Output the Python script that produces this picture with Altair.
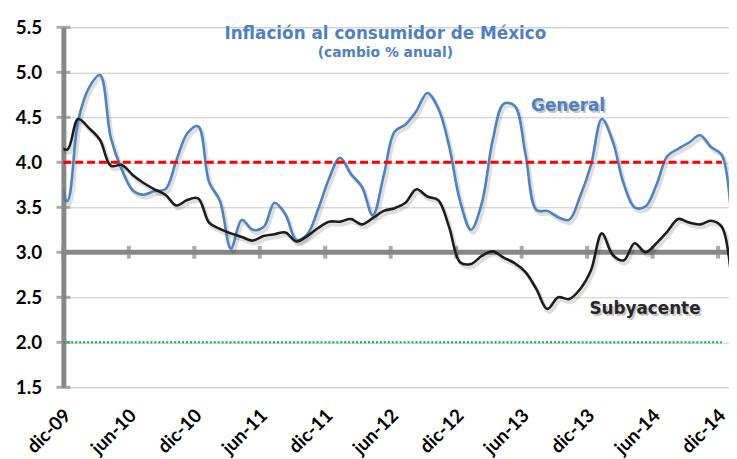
import json
import altair as alt
import pandas as pd

# ---------------- data ----------------
abbr = ["ene", "feb", "mar", "abr", "may", "jun", "jul", "ago", "sep", "oct", "nov", "dic"]
meses = ["nov-09", "dic-09"] + [f"{a}-{y}" for y in ["10", "11", "12", "13", "14"] for a in abbr] + ["ene-15"]

general = [3.86, 3.57,
           4.46, 4.83, 4.97, 4.27, 3.92, 3.69, 3.64, 3.68, 3.70, 4.02, 4.32, 4.40,
           3.78, 3.57, 3.04, 3.36, 3.25, 3.28, 3.55, 3.42, 3.14, 3.20, 3.48, 3.82,
           4.05, 3.87, 3.73, 3.41, 3.85, 4.34, 4.42, 4.57, 4.77, 4.60, 4.18, 3.57,
           3.25, 3.55, 4.25, 4.65, 4.63, 4.09, 3.47, 3.46, 3.39, 3.36, 3.62, 3.97,
           4.48, 4.23, 3.76, 3.50, 3.51, 3.75, 4.07, 4.15, 4.22, 4.30, 4.17, 4.08,
           3.07]

subyacente = [4.22, 4.14,
              4.48, 4.38, 4.25, 3.96, 3.97, 3.86, 3.77, 3.70, 3.64, 3.52, 3.58, 3.60,
              3.33, 3.26, 3.21, 3.17, 3.13, 3.18, 3.20, 3.22, 3.12, 3.18, 3.27, 3.34,
              3.34, 3.37, 3.31, 3.38, 3.46, 3.49, 3.55, 3.70, 3.62, 3.58, 3.28, 2.89,
              2.87, 2.96, 3.01, 2.94, 2.88, 2.78, 2.59, 2.37, 2.50, 2.48, 2.59, 2.80,
              3.21, 2.97, 2.91, 3.10, 3.00, 3.10, 3.23, 3.37, 3.33, 3.31, 3.35, 3.28,
              2.49]

x_labels = ["dic-09", "jun-10", "dic-10", "jun-11", "dic-11", "jun-12",
            "dic-12", "jun-13", "dic-13", "jun-14", "dic-14"]
y_ticks = [1.5, 2.0, 2.5, 3.0, 3.5, 4.0, 4.5, 5.0, 5.5]

meta_superior = 4.0
meta_inferior = 2.0
cruce_eje = 3.0

etiquetas = ["General", "Subyacente"]

# ---------------- tables ----------------
OFFSET = 0.35  # data points sit a little after the start of each month
idx0 = meses.index("dic-09")
df = pd.DataFrame({
    "mes": meses,
    "x": [i - idx0 + OFFSET for i in range(len(meses))],
    "General": general,
    "Subyacente": subyacente,
})
tick_pos = [meses.index(l) - idx0 for l in x_labels]
x_last = meses.index("dic-14") - idx0 + OFFSET

BLUE = "#4f81bd"
BLACK = "#1c1c1c"
AXIS_GRAY = "#878787"

xscale = alt.Scale(domain=[0, 61], nice=False, zero=False)
yscale = alt.Scale(domain=[1.5, 5.5], nice=False, zero=False)

label_expr = json.dumps(x_labels) + "[round(datum.value / 6)]"

x_main = alt.X("x:Q", scale=xscale, title=None, axis=alt.Axis(
    values=tick_pos, labelExpr=label_expr, labelAngle=-45, labelAlign="right",
    labelBaseline="middle", labelPadding=25, labelOffset=4, labelFont="Lato",
    labelFontSize=19, labelFontWeight="bold", labelColor="#000000",
    labelFlush=False, labelOverlap=False, domain=False, ticks=False, grid=False, title=None))
y_main = alt.Y("General:Q", scale=yscale, title=None, axis=alt.Axis(
    values=y_ticks, format=".1f", labelFont="Lato", labelFontSize=19,
    labelFontWeight="bold", labelColor="#000000", labelPadding=22, ticks=False,
    domainColor=AXIS_GRAY, domainWidth=5, gridColor="#c8c8c8", gridWidth=1,
    labelFlush=False, labelOverlap=False, title=None))

X = lambda f: alt.X(f, scale=xscale, title=None)
Y = lambda f: alt.Y(f, scale=yscale, title=None)

# main layer carrying the axes (invisible)
axes_layer = alt.Chart(df).mark_line(opacity=0).encode(x=x_main, y=y_main)

# horizontal axis line at 3.0
cross = alt.Chart(pd.DataFrame({"y": [cruce_eje]})).mark_rule(
    color=AXIS_GRAY, strokeWidth=5).encode(y=Y("y:Q"))

xticks = alt.Chart(pd.DataFrame({"x": tick_pos, "y": [cruce_eje] * len(tick_pos)})).mark_tick(
    orient="vertical", size=13, thickness=4, color=AXIS_GRAY).encode(x=X("x:Q"), y=Y("y:Q"))

yticks = alt.Chart(pd.DataFrame({"y": y_ticks})).mark_tick(
    orient="horizontal", size=14, thickness=3, color=AXIS_GRAY).encode(
    y=Y("y:Q"), x=alt.value(0))

green = alt.Chart(pd.DataFrame({"x": [0], "x2": [x_last], "y": [meta_inferior]})).mark_rule(
    color="#00b050", strokeWidth=2, strokeDash=[2, 2]).encode(x=X("x:Q"), x2="x2:Q", y=Y("y:Q"))

red = alt.Chart(pd.DataFrame({"x": [0], "x2": [x_last], "y": [meta_superior]})).mark_rule(
    color="#ff0000", strokeWidth=3, strokeDash=[8, 4]).encode(x=X("x:Q"), x2="x2:Q", y=Y("y:Q"))

base = alt.Chart(df)

def series(field, color):
    shadow = base.mark_line(color="#000000", opacity=0.13, strokeWidth=4, xOffset=2, yOffset=3,
                            interpolate="catmull-rom", clip=True).encode(x=X("x:Q"), y=Y(f"{field}:Q"))
    line = base.mark_line(color=color, strokeWidth=2.6, interpolate="catmull-rom", clip=True).encode(
        x=X("x:Q"), y=Y(f"{field}:Q"))
    return shadow, line

g_sh, g_line = series("General", BLUE)
s_sh, s_line = series("Subyacente", BLACK)

labels_df = pd.DataFrame({"x": [46.25, 53.3], "y": [4.566, 2.313], "t": etiquetas,
                          "c": [BLUE, "#262626"]})
lab_shadow = alt.Chart(labels_df).mark_text(
    font="DejaVu Sans", fontSize=17, fontWeight="bold", align="center", baseline="alphabetic",
    color="#000000", opacity=0.22, dx=2, dy=2).encode(x=X("x:Q"), y=Y("y:Q"), text="t:N")
lab = alt.Chart(labels_df).mark_text(
    font="DejaVu Sans", fontSize=17, fontWeight="bold", align="center", baseline="alphabetic").encode(
    x=X("x:Q"), y=Y("y:Q"), text="t:N", color=alt.Color("c:N", scale=None))

chart = alt.layer(
    axes_layer, cross, xticks, yticks, green,
    g_sh, s_sh, g_line, s_line, red, lab_shadow, lab
).properties(
    width=673, height=364,
    autosize=alt.AutoSizeParams(type="none"),
    padding={"left": 56, "top": 17, "right": 0, "bottom": 70},
    title=alt.TitleParams(
        "Inflación al consumidor de México", subtitle="(cambio % anual)",
        anchor="middle", frame="group", offset=-43, dx=-11,
        font="DejaVu Sans", fontSize=17, fontWeight="bold", color=BLUE,
        subtitleFont="DejaVu Sans", subtitleFontSize=14, subtitleFontWeight="bold",
        subtitleColor=BLUE, subtitlePadding=3)
).configure_view(stroke=None).configure(background="#ffffff")

chart.save("out.html", embed_options={"renderer": "svg", "actions": False})
